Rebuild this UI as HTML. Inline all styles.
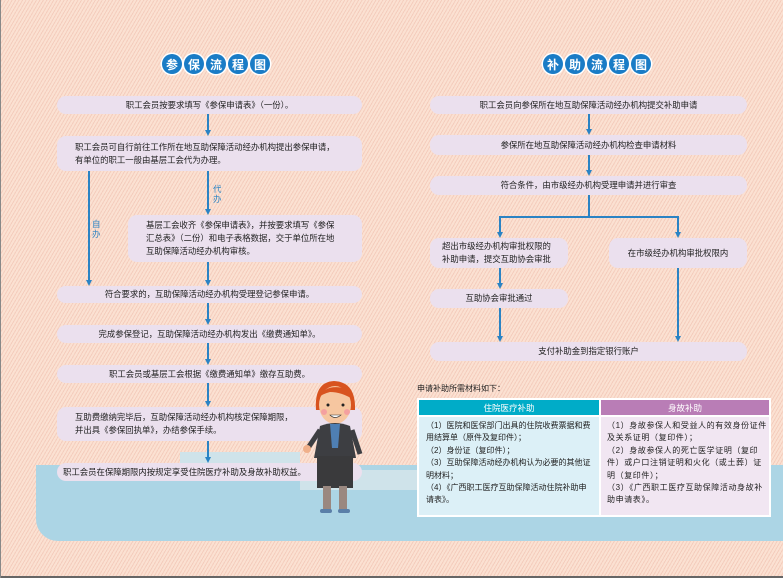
<!DOCTYPE html>
<html><head><meta charset="utf-8"><style>
*{margin:0;padding:0;box-sizing:border-box}
body{width:783px;height:578px;overflow:hidden;position:relative;font-family:"Liberation Sans","Noto Sans CJK SC",sans-serif;color:#222;
background:repeating-linear-gradient(-60deg,#fbe1d2 0 2px,#f4cdbd 2px 3px);}
.b{position:absolute;background:#ebe0ee;border-radius:9px;font-size:8.4px;line-height:13px;display:flex;align-items:center;justify-content:center;text-align:center}
.l{justify-content:flex-start;text-align:left;padding-left:18px}
.v{position:absolute;width:1.5px;background:#2a83c4}
.h{position:absolute;height:1.5px;background:#2a83c4}
.a{position:absolute;width:0;height:0;border-left:3px solid transparent;border-right:3px solid transparent;border-top:6px solid #2a83c4}
.t{position:absolute;display:flex;gap:2px}
.t span{width:20px;height:20px;border-radius:50%;background:#1a7cc6;color:#fff;font-weight:bold;font-size:12px;display:flex;align-items:center;justify-content:center;box-shadow:0 0 0 1.5px #fff}
.lab{position:absolute;color:#2a83c4;font-size:8.5px;line-height:10px;width:10px}
</style></head><body>
<div style="position:absolute;left:36px;top:465px;width:747px;height:76px;background:#acd5e5;border-bottom-left-radius:22px"></div>
<div style="position:absolute;left:180px;top:452px;width:120px;height:25px;background:#cfe3ea"></div>
<div style="position:absolute;left:300px;top:470px;width:120px;height:20px;background:#cfe3ea"></div>
<div style="position:absolute;left:0;top:576px;width:783px;height:2px;background:#666"></div>
<div style="position:absolute;left:0;top:0;width:1px;height:578px;background:#888"></div>

<div class="t" style="left:162px;top:54px"><span>参</span><span>保</span><span>流</span><span>程</span><span>图</span></div>
<div class="t" style="left:543px;top:54px"><span>补</span><span>助</span><span>流</span><span>程</span><span>图</span></div>

<div class="v" style="left:207px;top:114px;height:18px"></div><div class="a" style="left:205px;top:130px"></div>
<div class="v" style="left:207px;top:171px;height:40px"></div><div class="a" style="left:205px;top:209px"></div>
<div class="lab" style="left:213px;top:184px">代办</div>
<div class="v" style="left:88px;top:171px;height:110px"></div><div class="a" style="left:86px;top:280px"></div>
<div class="lab" style="left:92px;top:219px">自办</div>
<div class="v" style="left:207px;top:262px;height:20px"></div><div class="a" style="left:205px;top:280px"></div>
<div class="v" style="left:207px;top:303px;height:18px"></div><div class="a" style="left:205px;top:319px"></div>
<div class="v" style="left:207px;top:343px;height:18px"></div><div class="a" style="left:205px;top:359px"></div>
<div class="v" style="left:207px;top:383px;height:20px"></div><div class="a" style="left:205px;top:401px"></div>
<div class="v" style="left:207px;top:441px;height:18px"></div><div class="a" style="left:205px;top:457px"></div>

<div class="b" style="left:57px;top:96px;width:305px;height:18px">职工会员按要求填写《参保申请表》（一份）。</div>
<div class="b l" style="left:57px;top:136px;width:305px;height:35px">职工会员可自行前往工作所在地互助保障活动经办机构提出参保申请，<br>有单位的职工一般由基层工会代为办理。</div>
<div class="b l" style="left:128px;top:215px;width:234px;height:47px">基层工会收齐《参保申请表》，并按要求填写《参保<br>汇总表》（二份）和电子表格数据，交于单位所在地<br>互助保障活动经办机构审核。</div>
<div class="b" style="left:57px;top:286px;width:305px;height:17px">符合要求的，互助保障活动经办机构受理登记参保申请。</div>
<div class="b" style="left:57px;top:325px;width:305px;height:18px">完成参保登记，互助保障活动经办机构发出《缴费通知单》。</div>
<div class="b" style="left:57px;top:365px;width:305px;height:18px">职工会员或基层工会根据《缴费通知单》缴存互助费。</div>
<div class="b l" style="left:57px;top:407px;width:305px;height:34px">互助费缴纳完毕后，互助保障活动经办机构核定保障期限，<br>并出具《参保回执单》，办结参保手续。</div>
<div class="b" style="left:57px;top:463px;width:305px;height:18px;justify-content:flex-start;padding-left:6px">职工会员在保障期限内按规定享受住院医疗补助及身故补助权益。</div>

<svg style="position:absolute;left:300px;top:378px" width="72" height="138" viewBox="0 0 72 138">
<path d="M16 32 Q14 4 34 3 Q56 4 55 32 Z" fill="#d8531f"/>
<ellipse cx="35" cy="27" rx="16" ry="19" fill="#f6c6a0"/>
<path d="M18 20 Q25 6 44 10 Q52 14 54 22 Q42 14 30 14 Q22 16 18 20Z" fill="#d8531f"/>
<circle cx="28" cy="27" r="1.5" fill="#222"/><circle cx="43" cy="27" r="1.5" fill="#222"/>
<circle cx="24" cy="34" r="3" fill="#f4a0a0"/><circle cx="47" cy="34" r="3" fill="#f4a0a0"/>
<path d="M30 37 Q35 42 41 37Z" fill="#fff" stroke="#333" stroke-width=".6"/>
<path d="M20 48 Q35 42 50 48 L56 80 L14 80Z" fill="#3d3e42"/>
<path d="M30 46 L40 46 L38 70 L32 70Z" fill="#4f7fb3"/>
<path d="M20 52 L8 70" stroke="#3d3e42" stroke-width="5"/>
<circle cx="7" cy="71" r="4" fill="#f0b08a"/>
<path d="M52 52 L60 76" stroke="#3d3e42" stroke-width="5"/>
<rect x="17" y="78" width="36" height="32" fill="#3a3a3c"/>
<rect x="23" y="108" width="8" height="24" fill="#9a8880"/><rect x="39" y="108" width="8" height="24" fill="#9a8880"/>
<rect x="20" y="131" width="12" height="4" rx="2" fill="#5a7fa8"/><rect x="38" y="131" width="12" height="4" rx="2" fill="#5a7fa8"/>
</svg>

<div class="v" style="left:588px;top:114px;height:17px"></div><div class="a" style="left:586px;top:129px"></div>
<div class="v" style="left:588px;top:155px;height:17px"></div><div class="a" style="left:586px;top:170px"></div>
<div class="v" style="left:588px;top:195px;height:22px"></div>
<div class="h" style="left:499px;top:216px;width:180px"></div>
<div class="v" style="left:499px;top:216px;height:17px"></div><div class="a" style="left:497px;top:232px"></div>
<div class="v" style="left:677px;top:216px;height:17px"></div><div class="a" style="left:675px;top:232px"></div>
<div class="v" style="left:499px;top:268px;height:16px"></div><div class="a" style="left:497px;top:283px"></div>
<div class="v" style="left:499px;top:308px;height:29px"></div><div class="a" style="left:497px;top:336px"></div>
<div class="v" style="left:677px;top:268px;height:69px"></div><div class="a" style="left:675px;top:336px"></div>

<div class="b" style="left:430px;top:96px;width:317px;height:18px">职工会员向参保所在地互助保障活动经办机构提交补助申请</div>
<div class="b" style="left:430px;top:135px;width:317px;height:20px">参保所在地互助保障活动经办机构检查申请材料</div>
<div class="b" style="left:430px;top:176px;width:317px;height:19px">符合条件，由市级经办机构受理申请并进行审查</div>
<div class="b l" style="left:430px;top:238px;width:138px;height:30px;padding-left:12px">超出市级经办机构审批权限的<br>补助申请，提交互助协会审批</div>
<div class="b" style="left:609px;top:238px;width:138px;height:30px">在市级经办机构审批权限内</div>
<div class="b" style="left:430px;top:289px;width:138px;height:19px">互助协会审批通过</div>
<div class="b" style="left:430px;top:342px;width:317px;height:19px">支付补助金到指定银行账户</div>

<div style="position:absolute;left:417px;top:383px;font-size:8px">申请补助所需材料如下：</div>
<div style="position:absolute;left:417px;top:398px;width:354px;height:119px;background:#fff"></div>
<div style="position:absolute;left:419px;top:400px;width:180px;height:15px;background:#00acc8;color:#fff;font-size:8.5px;display:flex;align-items:center;justify-content:center">住院医疗补助</div>
<div style="position:absolute;left:601px;top:400px;width:168px;height:15px;background:#b97db6;color:#fff;font-size:8.5px;display:flex;align-items:center;justify-content:center">身故补助</div>
<div style="position:absolute;left:419px;top:417px;width:180px;height:98px;background:#dcf0f7;font-size:8px;line-height:12.4px;padding:3px 6px 0 7px">（1）医院和医保部门出具的住院收费票据和费用结算单（原件及复印件）；<br>（2）身份证（复印件）；<br>（3）互助保障活动经办机构认为必要的其他证明材料；<br>（4）《广西职工医疗互助保障活动住院补助申请表》。</div>
<div style="position:absolute;left:601px;top:417px;width:168px;height:98px;background:#f1e6f2;font-size:8px;line-height:12.4px;padding:3px 2px 0 6px;letter-spacing:0.6px">（1）身故参保人和受益人的有效身份证件及关系证明（复印件）；<br>（2）身故参保人的死亡医学证明（复印件）或户口注销证明和火化（或土葬）证明（复印件）；<br>（3）《广西职工医疗互助保障活动身故补助申请表》。</div>
</body></html>
